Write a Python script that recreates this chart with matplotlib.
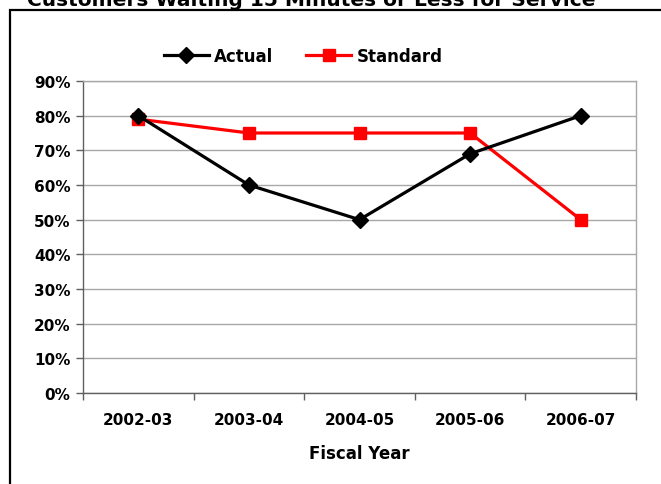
import matplotlib

matplotlib.use("Agg")

import matplotlib.pyplot as plt
from matplotlib.patches import Rectangle
from matplotlib.ticker import FixedLocator

years = ["2002-03", "2003-04", "2004-05", "2005-06", "2006-07"]
actual = [80, 60, 50, 69, 80]
standard = [79, 75, 75, 75, 50]
y_ticks = [0, 10, 20, 30, 40, 50, 60, 70, 80, 90]

title = "Customers Waiting 15 Minutes or Less for Service"

plt.rcParams["font.family"] = "DejaVu Sans"
plt.rcParams["font.weight"] = "bold"

W, H = 661, 485
fig = plt.figure(figsize=(W / 100, H / 100), dpi=100)

# outer chart frame, runs off the right and bottom of the image
fig.patches.append(Rectangle((10 / W, -0.2), 1.2, 1 - 11 / H + 0.2, transform=fig.transFigure,
                             fill=False, edgecolor="black", linewidth=1.6))
fig.text(311 / W, 1 - 6 / H, title, ha="center", va="baseline", fontsize=14.5, fontweight="bold")

ax = fig.add_axes([83 / W, 1 - 394 / H, (636 - 83) / W, (394 - 82) / H])
x = list(range(len(years)))
ax.plot(x, actual, color="black", linewidth=2.3, marker="D", markersize=8.5, label="Actual", zorder=4)
ax.plot(x, standard, color="#FF0000", linewidth=2.3, marker="s", markersize=9, label="Standard", zorder=3)

ax.set_xlim(-0.5, len(years) - 0.5)
ax.set_ylim(0, 90)
ax.set_yticks(y_ticks)
ax.set_yticklabels([f"{v}%" for v in y_ticks])
ax.set_xticks(x)
ax.set_xticklabels(years)
ax.xaxis.set_minor_locator(FixedLocator([i + 0.5 for i in range(-1, len(years))]))
ax.tick_params(axis="x", which="major", length=0, pad=14, labelsize=11)
ax.tick_params(axis="x", which="minor", length=5, width=1, color="#606060")
ax.tick_params(axis="y", length=5, width=1, color="#606060", labelsize=11, pad=4)
ax.grid(axis="y", color="#A8A8A8", linewidth=1)
ax.set_axisbelow(True)
for side in ("top", "right"):
    ax.spines[side].set_color("#A8A8A8")
    ax.spines[side].set_linewidth(1)
for side in ("left", "bottom"):
    ax.spines[side].set_color("#606060")
    ax.spines[side].set_linewidth(1)
ax.set_xlabel("Fiscal Year", fontsize=12, fontweight="bold", labelpad=12)

fig.legend(loc="center", bbox_to_anchor=(303 / W, 1 - 57 / H), ncol=2, frameon=False,
           prop={"weight": "bold", "size": 12}, handlelength=2.7, columnspacing=2.0,
           handletextpad=0.3)

fig.savefig("out.png", dpi=100)
